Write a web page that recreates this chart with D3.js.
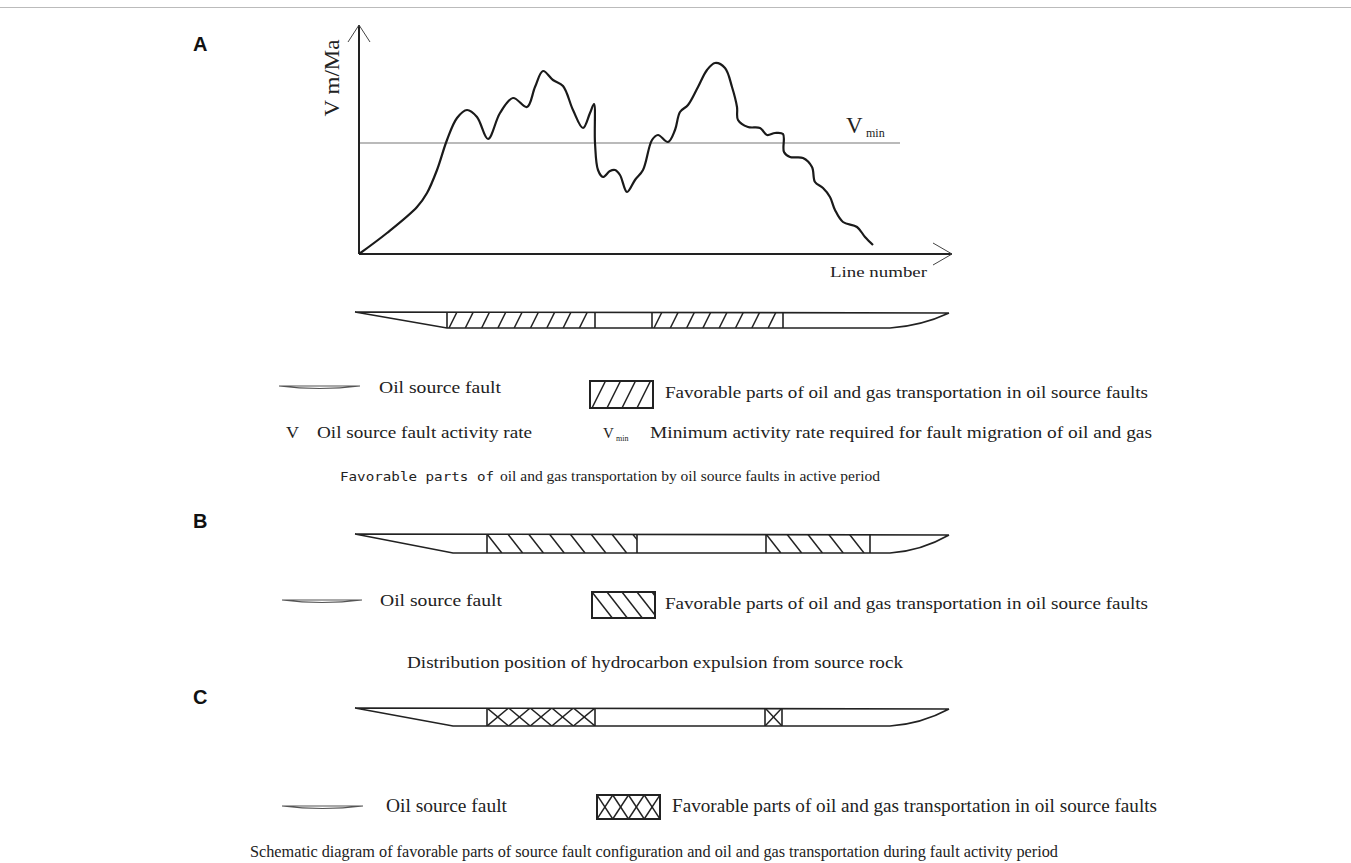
<!DOCTYPE html>
<html><head><meta charset="utf-8">
<script src="https://cdn.jsdelivr.net/npm/d3@7"></script>
<style>body{margin:0;background:#fff} svg{display:block}</style>
</head><body>
<svg id="c" width="1351" height="863"></svg>
<script>
// ---- data (line number vs. fault activity rate V, arbitrary units) ----
const lineNumber = [0,28,58,68,78,88,98,108,118,129,141,154,168,176,184,194,204,214,224,231,235,236,239,244,251,256,261,268,276,284,293,299,309,316,321,329,339,348,356,366,373,378,379,389,401,408,416,424,425,431,444,453,456,464,471,476,484,498,506,514];
const rate       = [0,21,47,61,84,114,136,144,137,115,141,156,147,167,183,174,168,144,126,141,150,111,84,77,83,84,79,62,74,84,114,119,112,124,142,149,167,184,191,186,167,147,134,127,126,119,121,120,102,97,96,87,72,66,57,44,32,27,17,9];
const vMin = 111;
const xMax = 593, yMax = 229;
// favourable zones (line-number ranges) for panels A, B, C
const favorableA = [[88,236],[293,424]];
const favorableB = [[128,278],[407,511]];
const favorableC = [[128,236],[406,423]];
const faultExtent = [-4, 590];

const svg = d3.select("#c");
const ink = "#222";
const serif = "'Liberation Serif','DejaVu Serif',serif";

const x = d3.scaleLinear().domain([0, xMax]).range([359, 952]);
const y = d3.scaleLinear().domain([0, yMax]).range([254, 25]);

// outer frame line
svg.append("line").attr("x1",0).attr("x2",1351).attr("y1",7.5).attr("y2",7.5).attr("stroke","#bbb").attr("stroke-width",1);

// panel letters
[["A",51],["B",528],["C",704]].forEach(([t,yy])=>{
  svg.append("text").attr("x",193).attr("y",yy).text(t)
    .attr("font-family","'Liberation Sans',Arial,sans-serif").attr("font-weight","bold")
    .attr("font-size",20).attr("fill","#111");
});

// ---- chart A ----
const g = svg.append("g");
g.append("line").attr("x1",x(0)).attr("x2",x(541)).attr("y1",y(vMin)).attr("y2",y(vMin))
  .attr("stroke","#777").attr("stroke-width",1.2);
g.append("line").attr("x1",x(0)).attr("x2",x(0)).attr("y1",y(0)).attr("y2",y(yMax)).attr("stroke",ink).attr("stroke-width",2);
g.append("line").attr("x1",x(0)).attr("x2",x(xMax)).attr("y1",y(0)).attr("y2",y(0)).attr("stroke",ink).attr("stroke-width",2);
g.append("path").attr("d",`M${x(0)-11},${y(yMax)+17} L${x(0)},${y(yMax)} L${x(0)+11},${y(yMax)+17}`)
  .attr("fill","none").attr("stroke","#444").attr("stroke-width",1);
g.append("path").attr("d",`M${x(xMax)-19},${y(0)-11} L${x(xMax)},${y(0)} L${x(xMax)-19},${y(0)+11}`)
  .attr("fill","none").attr("stroke","#444").attr("stroke-width",1);

const pts = lineNumber.map((d,i)=>[d, rate[i]]);
g.append("path").datum(pts)
  .attr("d", d3.line().x(d=>x(d[0])).y(d=>y(d[1])).curve(d3.curveCatmullRom.alpha(0.5)))
  .attr("fill","none").attr("stroke","#1a1a1a").attr("stroke-width",2.2).attr("stroke-linejoin","round");

g.append("text").attr("transform",`translate(${x(0)-20},${y(176)}) rotate(-90)`)
  .attr("text-anchor","middle").attr("font-family",serif).attr("font-size",22).attr("fill",ink)
  .attr("textLength",77).attr("lengthAdjust","spacingAndGlyphs").text("V m/Ma");
g.append("text").attr("x",830).attr("y",277).attr("font-family",serif).attr("font-size",15).attr("fill",ink)
  .attr("textLength",97).attr("lengthAdjust","spacingAndGlyphs").text("Line number");
g.append("text").attr("x",846).attr("y",133).attr("font-family",serif).attr("font-size",23).attr("fill",ink).text("V");
g.append("text").attr("x",866).attr("y",137).attr("font-family",serif).attr("font-size",12).attr("fill",ink).text("min");

// ---- fault bars ----
let clipId = 0;
function hatch(sel, x0, x1, yT, yB, type, step){
  const id = "clip"+(clipId++);
  sel.append("clipPath").attr("id",id).append("rect").attr("x",x0).attr("y",yT).attr("width",x1-x0).attr("height",yB-yT);
  const hg = sel.append("g").attr("clip-path",`url(#${id})`);
  const h = yB-yT;
  if(type==="slash"){
    const dx = h*0.5;
    for(let xx = x0+2; xx < x1+dx; xx += step)
      hg.append("line").attr("x1",xx).attr("y1",yB).attr("x2",xx+dx).attr("y2",yT);
  } else if(type==="back"){
    const dx = h*0.78;
    for(let xx = x0; xx < x1; xx += step)
      hg.append("line").attr("x1",xx).attr("y1",yT).attr("x2",xx+dx).attr("y2",yB);
  } else if(type==="cross"){
    const n = Math.max(1, Math.round((x1-x0)/step));
    const w = (x1-x0)/n;
    for(let i=0;i<n;i++){
      const a = x0+i*w;
      hg.append("line").attr("x1",a).attr("y1",yT).attr("x2",a+w).attr("y2",yB);
      hg.append("line").attr("x1",a+w).attr("y1",yT).attr("x2",a).attr("y2",yB);
    }
  }
  hg.selectAll("line").attr("stroke",ink).attr("stroke-width",1.5);
  sel.append("line").attr("x1",x0).attr("x2",x0).attr("y1",yT).attr("y2",yB).attr("stroke",ink).attr("stroke-width",1.6);
  sel.append("line").attr("x1",x1).attr("x2",x1).attr("y1",yT).attr("y2",yB).attr("stroke",ink).attr("stroke-width",1.6);
}

function faultBar(yT, yB, slopeEnd, zones, type, step){
  const s = svg.append("g");
  const xl = x(faultExtent[0]), xr = x(faultExtent[1]);
  const cs = x(531);
  s.append("path").attr("d",
    `M${xl},${yT} L${xr},${yT+1} M${xl},${yT} L${x(slopeEnd)},${yB} L${cs},${yB} Q${xr-28},${yB-2} ${xr},${yT+1}`)
    .attr("fill","none").attr("stroke",ink).attr("stroke-width",1.7);
  zones.forEach(z=>hatch(s, x(z[0]), x(z[1]), yT, yB, type, step));
}
faultBar(312, 328, 88, favorableA, "slash", 16.3);
faultBar(534, 553, 94, favorableB, "back", 20.8);
faultBar(708, 726, 94, favorableC, "cross", 21.6);

// ---- legends ----
function faultSymbol(x0, x1, yy){
  svg.append("path").attr("d",`M${x0},${yy} L${x1},${yy} M${x0},${yy} Q${(x0+x1)/2},${yy+5} ${x1},${yy}`)
    .attr("fill","none").attr("stroke","#555").attr("stroke-width",1.1);
}
function legendBox(x0,x1,yT,yB,type,step){
  const s = svg.append("g");
  hatch(s,x0,x1,yT,yB,type,step);
  s.append("rect").attr("x",x0).attr("y",yT).attr("width",x1-x0).attr("height",yB-yT)
    .attr("fill","none").attr("stroke",ink).attr("stroke-width",2);
}
function txt(str, x0, yy, w, size, fam){
  return svg.append("text").attr("x",x0).attr("y",yy).attr("font-family",fam||serif).attr("font-size",size||16)
    .attr("fill",ink).attr("textLength",w).attr("lengthAdjust","spacingAndGlyphs").text(str);
}
const favText = "Favorable parts of oil and gas transportation in oil source faults";

// A legend
faultSymbol(279, 360, 386);
txt("Oil source fault", 379, 393, 122);
legendBox(590, 653, 381, 408, "slash", 15);
txt(favText, 665, 398, 483);
txt("V", 286, 438, 13);
txt("Oil source fault activity rate", 317, 438, 215);
svg.append("text").attr("x",603).attr("y",438).attr("font-family",serif).attr("font-size",15).attr("fill",ink).text("V");
svg.append("text").attr("x",616).attr("y",441).attr("font-family",serif).attr("font-size",8).attr("fill",ink).text("min");
txt("Minimum activity rate required for fault migration of oil and gas", 650, 438, 502);
txt("Favorable parts of", 340, 481, 154, 13, "'DejaVu Sans Mono',monospace");
txt("oil and gas transportation by oil source faults in active period", 500, 481, 380, 14);

// B legend
faultSymbol(282, 362, 600);
txt("Oil source fault", 380, 606, 122);
legendBox(592, 655, 592, 618, "back", 15);
txt(favText, 665, 609, 483);
txt("Distribution position of hydrocarbon expulsion from source rock", 407, 668, 496);

// C legend
faultSymbol(282, 363, 806);
txt("Oil source fault", 386, 812, 121, 18);
legendBox(597, 660, 795, 819, "cross", 15.75);
txt(favText, 672, 812, 485, 18);
txt("Schematic diagram of favorable parts of source fault configuration and oil and gas transportation during fault activity period", 250, 857, 808);
</script>
</body></html>
